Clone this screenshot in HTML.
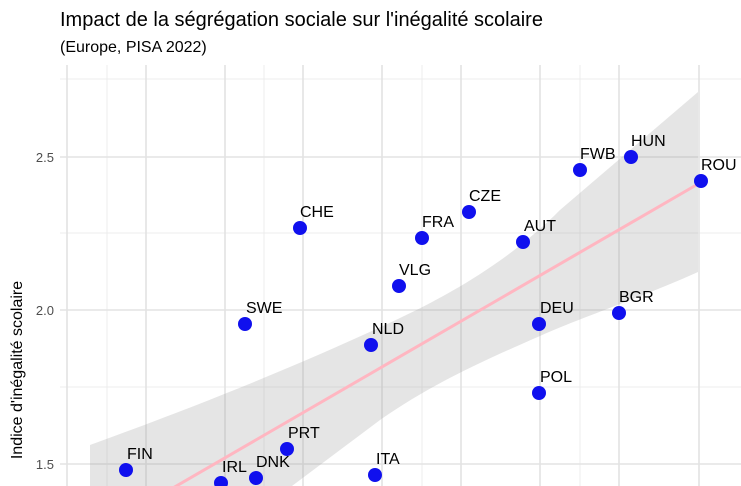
<!DOCTYPE html><html><head><style>html,body{margin:0;background:#fff;width:741px;height:486px;overflow:hidden}svg{display:block;font-family:"Liberation Sans",sans-serif}</style></head><body>
<svg width="741" height="486" viewBox="0 0 741 486">
<rect width="741" height="486" fill="#fff"/>
<text x="60" y="26" font-size="20" fill="#000">Impact de la ségrégation sociale sur l'inégalité scolaire</text>
<text x="60" y="52" font-size="16" fill="#000">(Europe, PISA 2022)</text>
<g stroke="#ececec" stroke-width="1">
<line x1="60" x2="741" y1="79" y2="79"/><line x1="60" x2="741" y1="233" y2="233"/><line x1="60" x2="741" y1="387" y2="387"/>
<line x1="107" x2="107" y1="65" y2="486"/><line x1="264" x2="264" y1="65" y2="486"/><line x1="422" x2="422" y1="65" y2="486"/><line x1="580" x2="580" y1="65" y2="486"/>
</g>
<g stroke="#e3e3e3" stroke-width="1.6">
<line x1="60" x2="741" y1="157" y2="157"/><line x1="60" x2="741" y1="310" y2="310"/><line x1="60" x2="741" y1="464" y2="464"/>
<line x1="67" x2="67" y1="65" y2="486"/><line x1="146" x2="146" y1="65" y2="486"/><line x1="225" x2="225" y1="65" y2="486"/><line x1="303" x2="303" y1="65" y2="486"/><line x1="382" x2="382" y1="65" y2="486"/><line x1="461" x2="461" y1="65" y2="486"/><line x1="540" x2="540" y1="65" y2="486"/><line x1="619" x2="619" y1="65" y2="486"/><line x1="699" x2="699" y1="65" y2="486"/>
</g>
<g font-size="13" fill="#4d4d4d" text-anchor="end"><text x="54" y="162">2.5</text><text x="54" y="315">2.0</text><text x="54" y="469">1.5</text></g>
<text transform="translate(22,370) rotate(-90)" font-size="16" fill="#000" text-anchor="middle">Indice d'inégalité scolaire</text>
<path d="M90,445 C200,405 300,365 400,318 C470,285 520,250 560,210 L698,92 L698,272 C640,298 580,318 540,336 C480,362 430,385 380,420 C340,450 300,480 260,510 L90,560 Z" fill="#999" fill-opacity="0.25"/>
<line x1="90" y1="536" x2="698" y2="184" stroke="#ffb6c1" stroke-width="3"/>
<g fill="#1010ee">
<circle cx="126" cy="470" r="7"/><circle cx="221" cy="483" r="7"/><circle cx="256" cy="478" r="7"/><circle cx="287" cy="449" r="7"/><circle cx="375" cy="475" r="7"/><circle cx="245" cy="324" r="7"/><circle cx="371" cy="345" r="7"/><circle cx="399" cy="286" r="7"/><circle cx="300" cy="228" r="7"/><circle cx="422" cy="238" r="7"/><circle cx="469" cy="212" r="7"/><circle cx="523" cy="242" r="7"/><circle cx="539" cy="324" r="7"/><circle cx="539" cy="393" r="7"/><circle cx="580" cy="170" r="7"/><circle cx="631" cy="157" r="7"/><circle cx="619" cy="313" r="7"/><circle cx="701" cy="181" r="7"/>
</g>
<g font-size="16" fill="#000">
<text x="127" y="459">FIN</text><text x="222" y="472">IRL</text><text x="256" y="467">DNK</text><text x="288" y="438">PRT</text><text x="376" y="464">ITA</text><text x="246" y="313">SWE</text><text x="372" y="334">NLD</text><text x="399" y="275">VLG</text><text x="300" y="217">CHE</text><text x="422" y="227">FRA</text><text x="469" y="201">CZE</text><text x="524" y="231">AUT</text><text x="540" y="313">DEU</text><text x="540" y="382">POL</text><text x="580" y="159">FWB</text><text x="631" y="146">HUN</text><text x="619" y="302">BGR</text><text x="701" y="170">ROU</text>
</g>
</svg></body></html>
